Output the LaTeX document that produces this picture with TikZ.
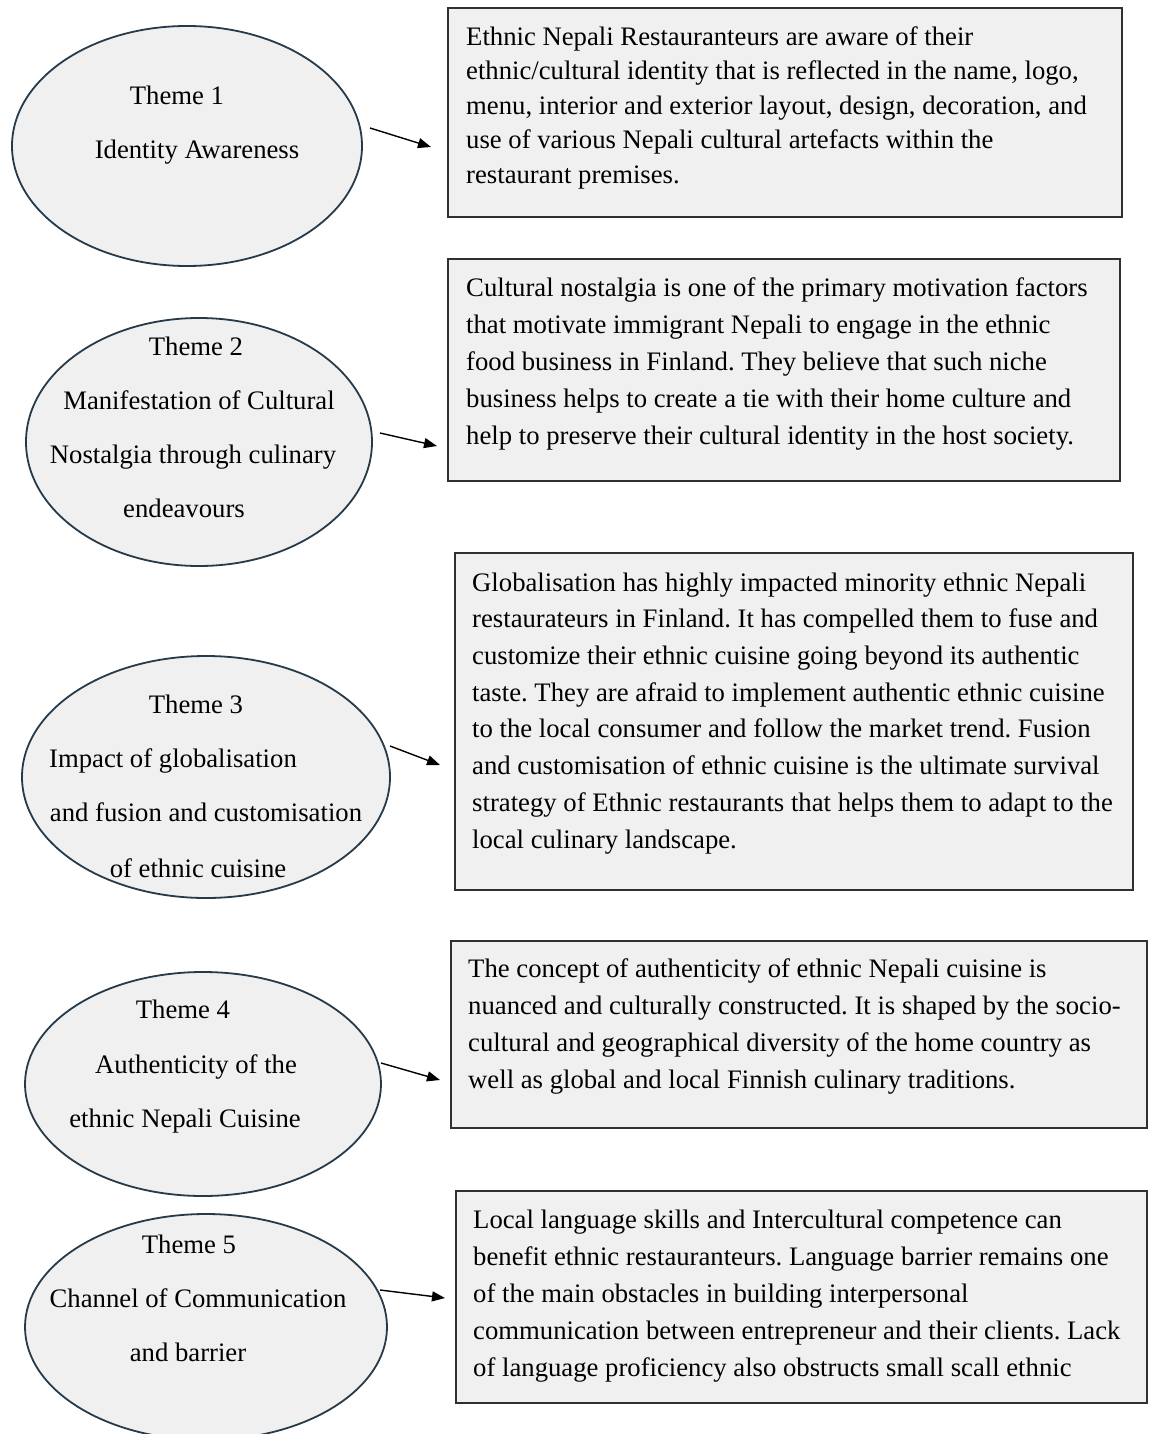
\documentclass[tikz,border=0pt]{standalone}
\usepackage{fontspec}
\setmainfont{Liberation Serif}
\frenchspacing
\usetikzlibrary{arrows.meta}
\definecolor{boxfill}{HTML}{F0F0F0}
\definecolor{ellline}{HTML}{263A4A}
\definecolor{boxline}{HTML}{303030}
\tikzset{
  ellshape/.style={draw=ellline, fill=boxfill, line width=1.8pt},
  txtbox/.style={draw=boxline, fill=boxfill, line width=1.6pt},
  elltxt/.style={anchor=base, inner sep=0pt, font=\fontsize{26.7}{32}\selectfont},
  boxtxt/.style={anchor=base west, inner sep=0pt, align=left, font=\fontsize{26.7}{#1}\selectfont},
  themearrow/.style={draw=black, line width=1.4pt, -{Triangle[length=13pt,width=10pt]}}
}
\begin{document}
\begin{tikzpicture}[x=1pt,y=-1pt]
\useasboundingbox (0,0) rectangle (1150,1434);
\clip (0,0) rectangle (1150,1434);
\fill[white] (0,0) rectangle (1150,1434);

% ---------- Theme 1 ----------
\draw[ellshape] (187,146) ellipse [x radius=175, y radius=120];
\node[elltxt] (e1t1) at (177,105) {Theme 1};
\node[elltxt] (e1t2) at (197,159) {Identity Awareness};
\draw[txtbox] (448,8) rectangle (1122,217);
% base anchor = baseline of the last line
\node[boxtxt=34.5] (b1t) at (466,183) {Ethnic Nepali Restauranteurs are aware of their\\
ethnic/cultural identity that is reflected in the name, logo,\\
menu, interior and exterior layout, design, decoration, and\\
use of various Nepali cultural artefacts within the\\
restaurant premises.};
\coordinate (a1s) at (370,128);
\coordinate (a1e) at (431,147);
\draw[themearrow] (a1s) -- (a1e);

% ---------- Theme 2 ----------
\draw[ellshape] (199,442) ellipse [x radius=173, y radius=124];
\node[elltxt] (e2t1) at (196,355) {Theme 2};
\node[elltxt] (e2t2) at (199,409) {Manifestation of Cultural};
\node[elltxt] (e2t3) at (193,463) {Nostalgia through culinary};
\node[elltxt] (e2t4) at (184,517) {endeavours};
\draw[txtbox] (448,259) rectangle (1120,481);
\node[boxtxt=37] (b2t) at (466,444) {Cultural nostalgia is one of the primary motivation factors\\
that motivate immigrant Nepali to engage in the ethnic\\
food business in Finland. They believe that such niche\\
business helps to create a tie with their home culture and\\
help to preserve their cultural identity in the host society.};
\coordinate (a2s) at (380,433);
\coordinate (a2e) at (437,446);
\draw[themearrow] (a2s) -- (a2e);

% ---------- Theme 3 ----------
\draw[ellshape] (206,777) ellipse [x radius=184, y radius=121];
\node[elltxt] (e3t1) at (196,713) {Theme 3};
\node[elltxt] (e3t2) at (173,767) {Impact of globalisation};
\node[elltxt] (e3t3) at (206,821) {and fusion and customisation};
\node[elltxt] (e3t4) at (198,877) {of ethnic cuisine};
\draw[txtbox] (455,553) rectangle (1133,890);
\node[boxtxt=36.7] (b3t) at (472,848) {Globalisation has highly impacted minority ethnic Nepali\\
restaurateurs in Finland. It has compelled them to fuse and\\
customize their ethnic cuisine going beyond its authentic\\
taste. They are afraid to implement authentic ethnic cuisine\\
to the local consumer and follow the market trend. Fusion\\
and customisation of ethnic cuisine is the ultimate survival\\
strategy of Ethnic restaurants that helps them to adapt to the\\
local culinary landscape.};
\coordinate (a3s) at (390,746);
\coordinate (a3e) at (440,765);
\draw[themearrow] (a3s) -- (a3e);

% ---------- Theme 4 ----------
\draw[ellshape] (203,1084) ellipse [x radius=178, y radius=112];
\node[elltxt] (e4t1) at (183,1018) {Theme 4};
\node[elltxt] (e4t2) at (196,1073) {Authenticity of the};
\node[elltxt] (e4t3) at (185,1127) {ethnic Nepali Cuisine};
\draw[txtbox] (451,941) rectangle (1147,1128);
\node[boxtxt=37] (b4t) at (468,1088) {The concept of authenticity of ethnic Nepali cuisine is\\
nuanced and culturally constructed. It is shaped by the socio-\\
cultural and geographical diversity of the home country as\\
well as global and local Finnish culinary traditions.};
\coordinate (a4s) at (381,1063);
\coordinate (a4e) at (440,1080);
\draw[themearrow] (a4s) -- (a4e);

% ---------- Theme 5 ----------
\draw[ellshape] (206,1327) ellipse [x radius=181, y radius=113];
\node[elltxt] (e5t1) at (189,1253) {Theme 5};
\node[elltxt] (e5t2) at (198,1307) {Channel of Communication};
\node[elltxt] (e5t3) at (188,1361) {and barrier};
\draw[txtbox] (456,1191) rectangle (1147,1403);
\node[boxtxt=37] (b5t) at (473,1376) {Local language skills and Intercultural competence can\\
benefit ethnic restauranteurs. Language barrier remains one\\
of the main obstacles in building interpersonal\\
communication between entrepreneur and their clients. Lack\\
of language proficiency also obstructs small scall ethnic};
\coordinate (a5s) at (380,1290);
\coordinate (a5e) at (445,1298);
\draw[themearrow] (a5s) -- (a5e);
\end{tikzpicture}
\end{document}
